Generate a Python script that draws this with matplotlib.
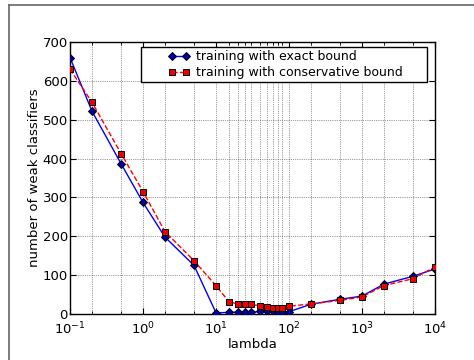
import numpy as np
import matplotlib
matplotlib.use('Agg')
import matplotlib.pyplot as plt
from matplotlib.lines import Line2D
from matplotlib.patches import Rectangle
from matplotlib.ticker import FixedLocator, NullFormatter

lam = [0.1, 0.2, 0.5, 1, 2, 5, 10, 15, 20, 25, 30, 40, 50, 60, 70, 80, 100,
       200, 500, 1000, 2000, 5000, 10000]
exact = [660, 522, 387, 287, 198, 125, 3, 4, 5, 4, 4, 7, 9, 7, 5, 5, 6,
         25, 38, 46, 77, 97, 116]
conservative = [630, 545, 413, 315, 212, 137, 73, 32, 25, 26, 25, 21, 18, 16, 15, 15, 20,
                26, 35, 44, 73, 91, 121]
labels = ['training with exact bound', 'training with conservative bound']

plt.rcParams['font.size'] = 9.5
plt.rcParams['mathtext.default'] = 'regular'

fig = plt.figure(figsize=(4.74, 3.6), dpi=100)
ax = fig.add_axes([70/474, 1-314/360, 365/474, 272/360])

l1, = ax.plot(lam, exact, '-', color='#0000ff', lw=1, marker='D', ms=4.5,
              mfc='#0000aa', mec='black', mew=0.7, zorder=3)
l2, = ax.plot(lam, conservative, '--', color='#ff0000', lw=1, marker='s', ms=5,
              mfc='#ee0000', mec='black', mew=0.7, zorder=3)

ax.set_xscale('log')
ax.set_xlim(0.1, 10000)
ax.set_ylim(0, 700)
ax.set_yticks(range(0, 701, 100))
minor = [v for v in lam if v not in (0.1, 1, 10, 100, 1000, 10000)]
ax.xaxis.set_minor_locator(FixedLocator(minor))
ax.xaxis.set_minor_formatter(NullFormatter())
ax.tick_params(which='both', direction='in', top=True, right=True)
ax.tick_params(which='major', length=4)
ax.tick_params(which='minor', length=2)
ax.tick_params(axis='x', which='major', pad=5)
ax.tick_params(axis='y', which='major', pad=1.5)
ax.grid(True, which='both', axis='x', color='0.25', ls=':', lw=0.5)
ax.grid(True, which='major', axis='y', color='0.25', ls=':', lw=0.5)
ax.set_axisbelow(True)
for s in ax.spines.values():
    s.set_linewidth(1)

ax.set_xlabel('lambda', labelpad=0)
ax.set_ylabel('number of weak classifiers', labelpad=1.5)

# legend frame
ax.add_patch(Rectangle((0.1953, 0.853), 0.782, 0.1286, transform=ax.transAxes,
                       fc='white', ec='black', lw=1, zorder=4))
leg = ax.legend([l1, l2], labels, loc='center', bbox_to_anchor=(0.590, 0.917),
                frameon=False, numpoints=2, handlelength=1.76, handletextpad=0.46,
                labelspacing=0.25, borderpad=0.2, fontsize=9)
leg.set_zorder(5)

# outer frame
fig.add_artist(Line2D([9/474, 9/474], [0, 1-5/360], color='#666666', lw=1.2))
fig.add_artist(Line2D([9/474, 1], [1-5/360, 1-5/360], color='#666666', lw=1.2))

fig.savefig('out.png', dpi=100, facecolor='white')
